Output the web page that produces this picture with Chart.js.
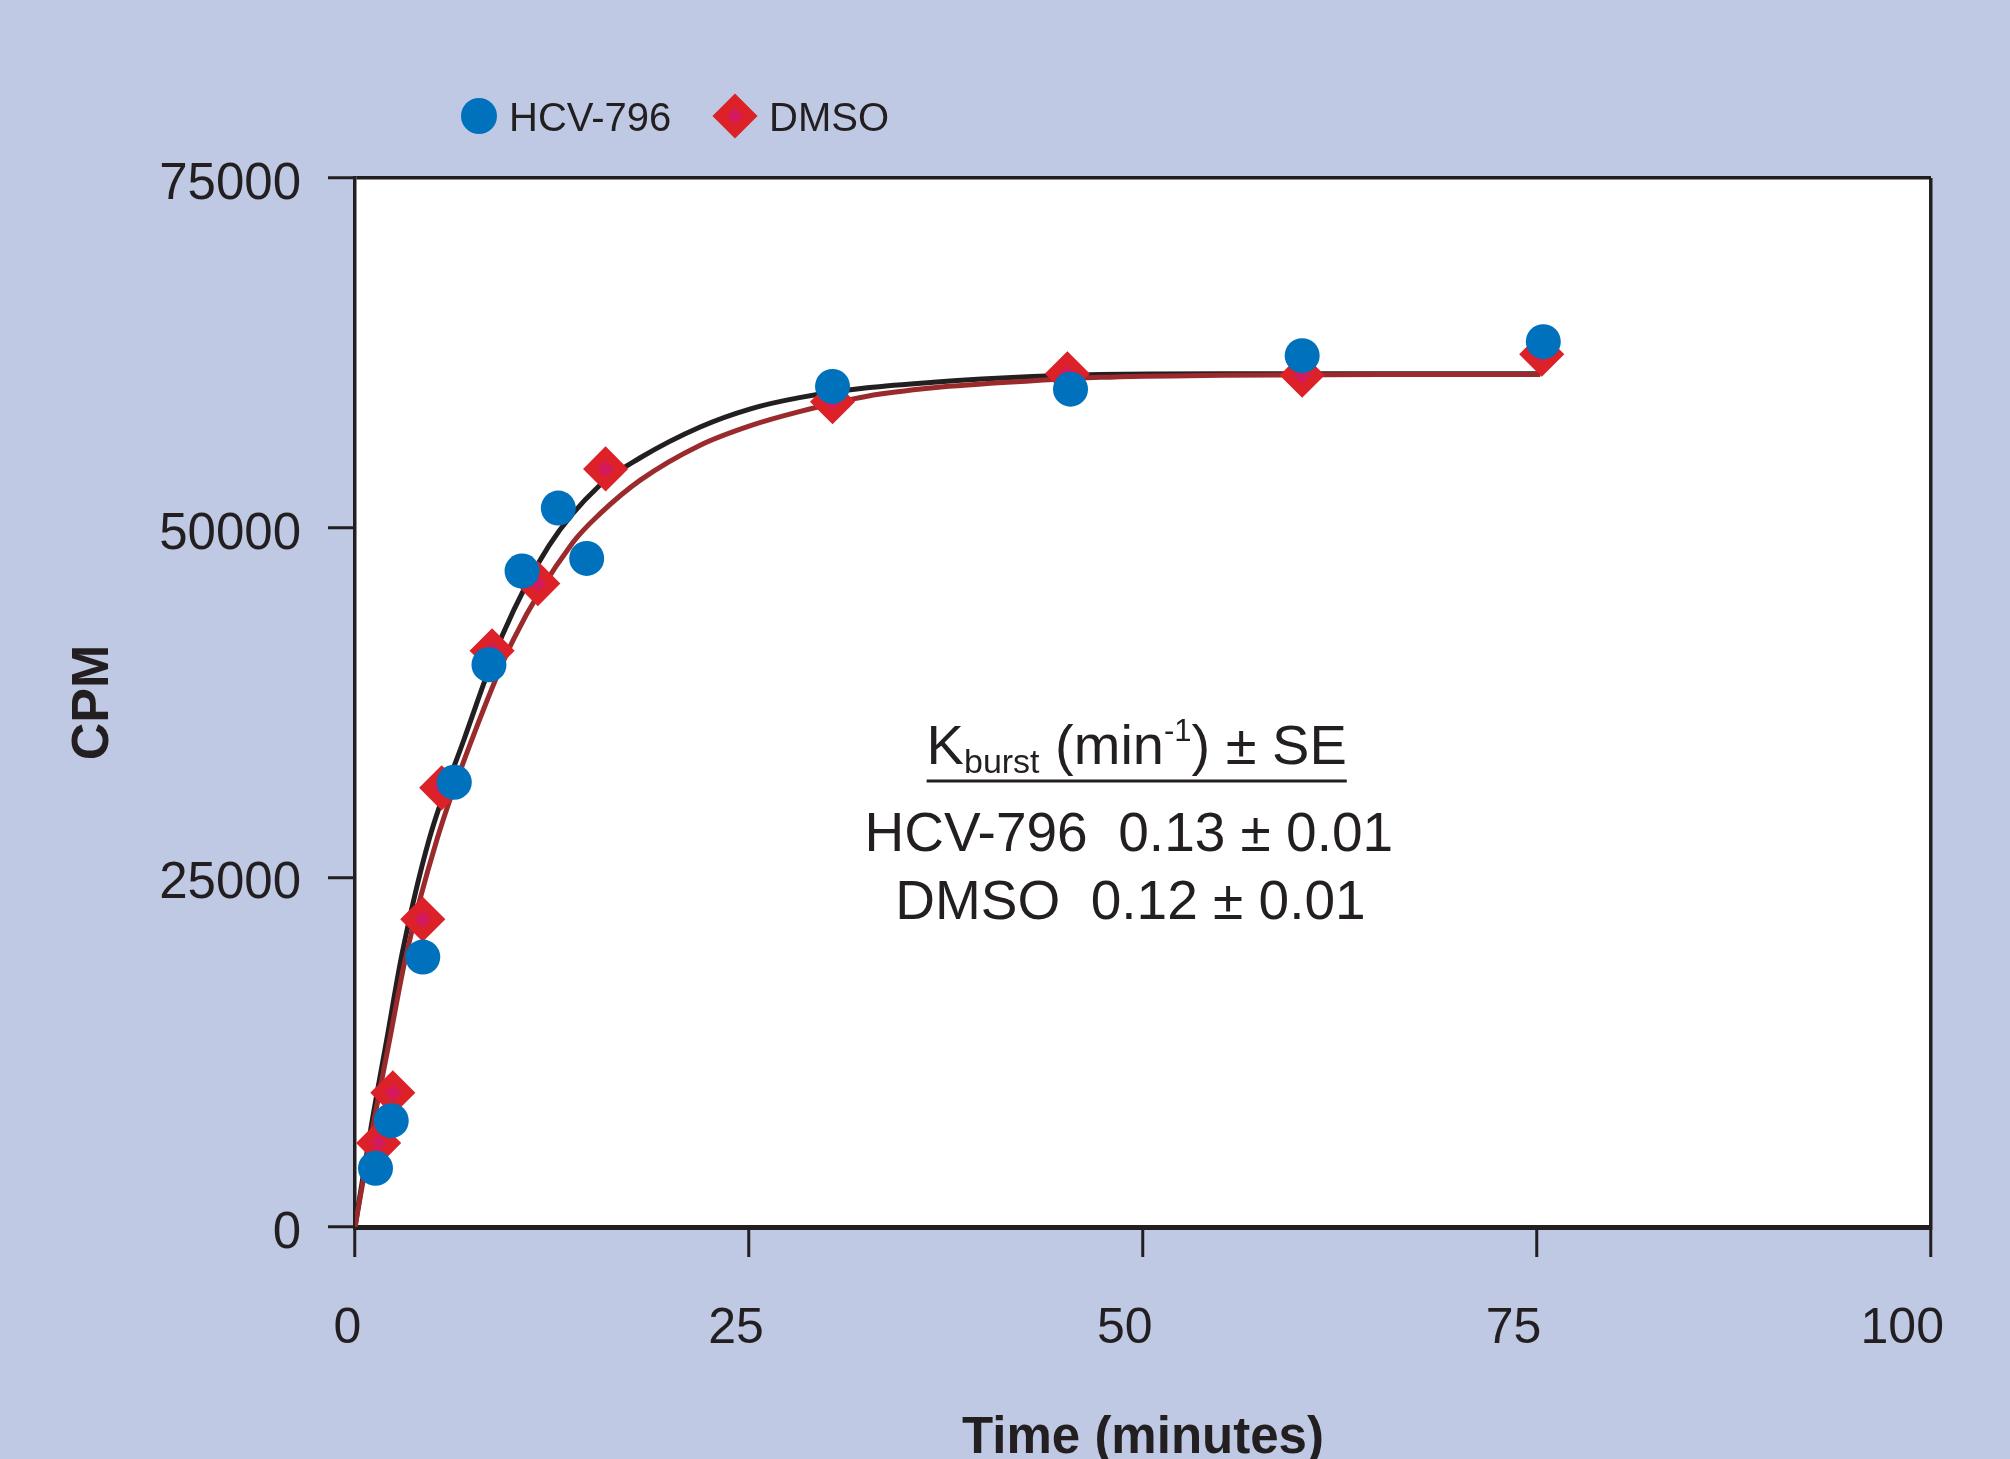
<!DOCTYPE html>
<html>
<head>
<meta charset="utf-8">
<script src="https://cdn.jsdelivr.net/npm/chart.js@4.4.1/dist/chart.umd.min.js"></script>
<style>
  html, body { margin: 0; padding: 0; background: #bfc9e4; overflow: hidden; }
  #wrap { width: 2010px; height: 1459px; }
</style>
</head>
<body>
<div id="wrap"><canvas id="burstChart" width="2010" height="1459"></canvas></div>
<script>
// measured points (time in minutes, CPM)
const hcvTime = [1.3, 2.3, 4.3, 6.3, 8.5, 10.6, 12.9, 14.7, 30.3, 45.4, 60.1, 75.4];
const hcvCpm = [4200, 7600, 19300, 31800, 40200, 46900, 51400, 47800, 60100, 59900, 62300, 63300];
const dmsoTime = [1.5, 2.4, 4.3, 5.5, 8.7, 11.6, 15.9, 30.3, 45.2, 60.1, 75.3];
const dmsoCpm = [6000, 9600, 22000, 31400, 41200, 46000, 54200, 59000, 61000, 60900, 62400];

// fitted curves
const hcvFitTime = [0, 1.0, 2.0, 3.0, 4.7, 6.9, 9.35, 12.3, 15.5, 18.1, 21.9, 25.1, 28.2, 32.5, 36.7, 43.0, 47.3, 55, 65, 75.2];
const hcvFitCpm = [0, 7000, 13300, 19600, 27700, 34800, 42300, 48700, 53000, 55000, 57200, 58500, 59300, 60000, 60400, 60800, 60950, 61000, 61000, 61000];
const dmsoFitTime = [0, 1.1, 2.2, 3.2, 5.2, 7.4, 10.05, 13.8, 15.55, 18.1, 21.9, 25.1, 28.2, 32.5, 36.7, 43.0, 47.3, 55, 65, 75.2];
const dmsoFitCpm = [0, 7000, 13400, 19200, 27700, 34800, 42000, 48900, 51000, 53400, 55900, 57300, 58300, 59400, 60000, 60500, 60750, 60900, 60950, 60950];

// axes
const xTicks = [0, 25, 50, 75, 100];
const yTicks = [0, 25000, 50000, 75000];

// rate table text
const tableHead = "K";
const tableRows = ["HCV-796  0.13 ± 0.01", "DMSO  0.12 ± 0.01"];

const ink = "#231f20";
const blue = "#0071bc";
const red = "#dc2128";
const redInner = "#d41a5c";
const darkRed = "#9b2a2c";
const font = "'Liberation Sans', Arial, sans-serif";

function toPoints(xs, ys) {
  return xs.map((x, i) => ({ x: x, y: ys[i] }));
}

// white plot area
const plotBg = {
  id: "plotBg",
  beforeDraw(chart) {
    const { ctx, chartArea } = chart;
    ctx.save();
    ctx.fillStyle = "#ffffff";
    ctx.fillRect(chartArea.left, chartArea.top, chartArea.right - chartArea.left, chartArea.bottom - chartArea.top);
    ctx.restore();
  },
};

// legend + rate table
const extras = {
  id: "extras",
  afterDraw(chart) {
    const ctx = chart.ctx;
    const xs = chart.scales.x;
    const ys = chart.scales.y;
    ctx.save();

    // legend
    ctx.fillStyle = blue;
    ctx.beginPath();
    ctx.arc(479, 116, 18, 0, Math.PI * 2);
    ctx.fill();
    ctx.fillStyle = ink;
    ctx.font = "40px " + font;
    ctx.textBaseline = "alphabetic";
    ctx.textAlign = "left";
    ctx.fillText(chart.data.datasets[0].label, 509, 131);

    ctx.beginPath();
    ctx.moveTo(735, 116 - 15.5);
    ctx.lineTo(735 + 15.5, 116);
    ctx.lineTo(735, 116 + 15.5);
    ctx.lineTo(735 - 15.5, 116);
    ctx.closePath();
    ctx.fillStyle = redInner;
    ctx.fill();
    ctx.lineWidth = 10;
    ctx.strokeStyle = red;
    ctx.stroke();
    ctx.fillStyle = ink;
    ctx.fillText(chart.data.datasets[1].label, 769, 131);

    // table head with sub/superscript
    const cx = xs.getPixelForValue(49.6);
    const segs = [
      { t: tableHead, size: 56, dy: 0 },
      { t: "burst", size: 34, dy: 9 },
      { t: " (min", size: 56, dy: 0 },
      { t: "-1", size: 31, dy: -23 },
      { t: ") ± SE", size: 56, dy: 0 },
    ];
    let total = 0;
    segs.forEach((s) => {
      ctx.font = s.size + "px " + font;
      s.w = ctx.measureText(s.t).width;
      total += s.w;
    });
    const base = ys.getPixelForValue(33100);
    let x = cx - total / 2;
    const x0 = x;
    segs.forEach((s) => {
      ctx.font = s.size + "px " + font;
      ctx.fillText(s.t, x, base + s.dy);
      x += s.w;
    });
    ctx.lineWidth = 3;
    ctx.strokeStyle = ink;
    ctx.beginPath();
    ctx.moveTo(x0, base + 17);
    ctx.lineTo(x, base + 17);
    ctx.stroke();

    ctx.font = "55px " + font;
    ctx.textAlign = "center";
    ctx.fillText(tableRows[0], xs.getPixelForValue(49.1), ys.getPixelForValue(26850));
    ctx.fillText(tableRows[1], xs.getPixelForValue(49.2), ys.getPixelForValue(22050));
    ctx.restore();
  },
};

new Chart(document.getElementById("burstChart"), {
  type: "scatter",
  data: {
    datasets: [
      {
        label: "HCV-796",
        data: toPoints(hcvTime, hcvCpm),
        pointStyle: "circle",
        pointRadius: 17.5,
        pointBackgroundColor: blue,
        pointBorderWidth: 0,
        order: 0,
      },
      {
        label: "DMSO",
        data: toPoints(dmsoTime, dmsoCpm),
        pointStyle: "rectRot",
        pointRadius: 15.5,
        pointBackgroundColor: redInner,
        pointBorderColor: red,
        pointBorderWidth: 10,
        order: 1,
      },
      {
        label: "DMSO fit",
        data: toPoints(dmsoFitTime, dmsoFitCpm),
        showLine: true,
        borderColor: darkRed,
        borderWidth: 5,
        pointRadius: 0,
        cubicInterpolationMode: "monotone",
        order: 2,
      },
      {
        label: "HCV-796 fit",
        data: toPoints(hcvFitTime, hcvFitCpm),
        showLine: true,
        borderColor: ink,
        borderWidth: 5,
        pointRadius: 0,
        cubicInterpolationMode: "monotone",
        order: 3,
      },
    ],
  },
  options: {
    responsive: false,
    animation: false,
    devicePixelRatio: 1,
    layout: { padding: { top: 178, right: 79, bottom: 0, left: 0 } },
    plugins: {
      legend: { display: false },
      tooltip: { enabled: false },
    },
    scales: {
      // data axis: frame line and tick marks only
      x: {
        type: "linear",
        min: 0,
        max: 100,
        weight: 0,
        afterBuildTicks: (scale) => {
          scale.ticks = xTicks.map((v) => ({ value: v }));
        },
        afterFit: (scale) => {
          scale.height = 30;
        },
        ticks: { display: false },
        grid: {
          color: (c) => (c.tick && c.tick.value === 100 ? ink : "rgba(0,0,0,0)"),
          lineWidth: 3.5,
          tickColor: ink,
          tickWidth: 3,
          tickLength: 30,
        },
        border: { color: ink, width: 5 },
      },
      // label axis: the printed numbers sit a little left of their ticks
      xLab: {
        type: "linear",
        position: "bottom",
        min: 0.49,
        max: 101.85,
        weight: 1,
        afterBuildTicks: (scale) => {
          scale.ticks = xTicks.map((v) => ({ value: v }));
        },
        afterFit: (scale) => {
          scale.height = 1459 - 1257;
        },
        ticks: {
          color: ink,
          font: { family: font, size: 50 },
          padding: 34,
          maxRotation: 0,
          callback: (v) => String(v),
        },
        grid: { display: false },
        border: { display: false },
        title: {
          display: true,
          text: "Time (minutes)",
          color: ink,
          font: { family: font, size: 51, weight: "bold" },
          padding: { top: 0, bottom: -11 },
        },
      },
      y: {
        type: "linear",
        min: 0,
        max: 75000,
        afterBuildTicks: (scale) => {
          scale.ticks = yTicks.map((v) => ({ value: v }));
        },
        afterFit: (scale) => {
          scale.width = 355;
        },
        ticks: {
          color: ink,
          font: { family: font, size: 51 },
          padding: 27,
          labelOffset: 7,
          callback: (v) => String(v),
        },
        grid: {
          color: (c) => (c.tick && c.tick.value === 75000 ? ink : "rgba(0,0,0,0)"),
          lineWidth: 3.5,
          tickColor: ink,
          tickWidth: 3,
          tickLength: 27,
        },
        border: { color: ink, width: 3.5 },
        title: {
          display: true,
          text: "CPM",
          color: ink,
          font: { family: font, size: 52, weight: "bold" },
          padding: { top: 62, bottom: 0 },
        },
      },
    },
  },
  plugins: [plotBg, extras],
});
</script>
</body>
</html>
